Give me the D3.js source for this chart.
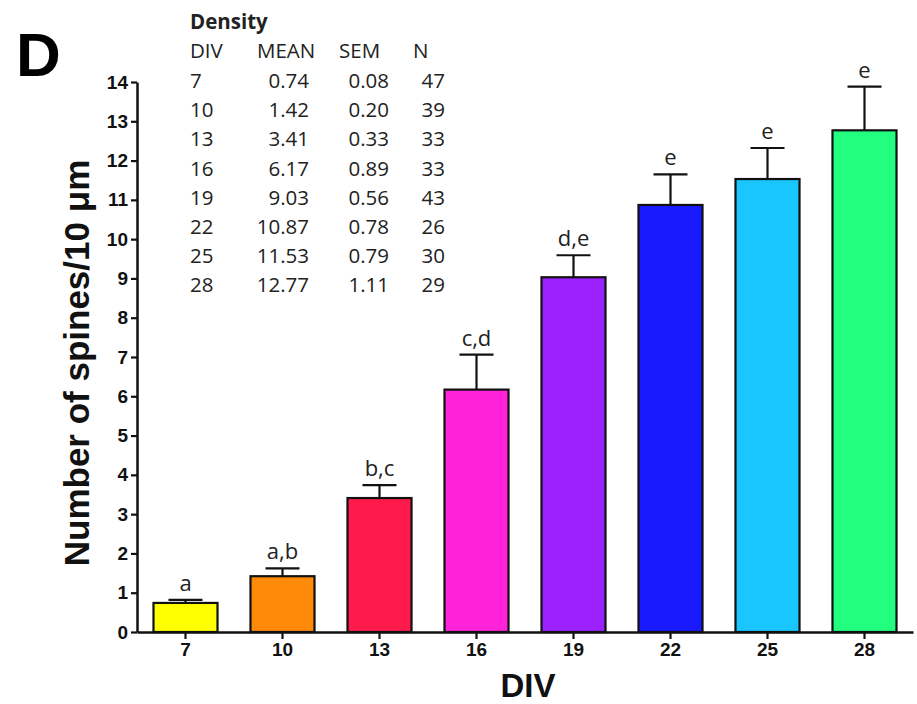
<!DOCTYPE html>
<html>
<head>
<meta charset="utf-8">
<script src="https://cdn.jsdelivr.net/npm/d3@7"></script>
<style>
  body { margin: 0; background: white; }
  svg { display: block; }
</style>
</head>
<body>
<div id="chart"></div>
<script>
const divs = ["7", "10", "13", "16", "19", "22", "25", "28"]
const means = [0.74, 1.42, 3.41, 6.17, 9.03, 10.87, 11.53, 12.77]
const sems = [0.08, 0.20, 0.33, 0.89, 0.56, 0.78, 0.79, 1.11]
const counts = [47, 39, 33, 33, 43, 26, 30, 29]
const letters = ["a", "a,b", "b,c", "c,d", "d,e", "e", "e", "e"]
const colors = ["#ffff00", "#ff8a0a", "#ff1a4c", "#ff22d8", "#9b22ff", "#1a1aff", "#1ac6ff", "#22ff7f"]
const yTicks = d3.range(0, 15)
const tableHeader = ["DIV", "MEAN", "SEM", "N"]

const width = 917, height = 704
const margin = { left: 137, right: 4, top: 82, bottom: 72 }

const svg = d3.select("#chart")
  .append("svg")
  .attr("width", width)
  .attr("height", height)

const x = d3.scaleBand()
  .domain(divs)
  .range([margin.left, width - margin.right])
  .paddingInner(0.34)
  .paddingOuter(0.17)

const y = d3.scaleLinear()
  .domain([0, 14])
  .range([height - margin.bottom, margin.top])

const rows = divs.map((d, i) => ({ div: d, mean: means[i], sem: sems[i], n: counts[i], letter: letters[i], color: colors[i] }))

// bars
svg.append("g")
  .selectAll("rect")
  .data(rows)
  .join("rect")
    .attr("x", d => x(d.div))
    .attr("y", d => y(d.mean))
    .attr("width", x.bandwidth())
    .attr("height", d => y(0) - y(d.mean))
    .attr("fill", d => d.color)
    .attr("stroke", "#111")
    .attr("stroke-width", 2.2)

// error bars (upper only)
const err = svg.append("g")
  .attr("stroke", "#111")
  .attr("stroke-width", 2.2)
  .selectAll("g")
  .data(rows)
  .join("g")
err.append("line")
  .attr("x1", d => x(d.div) + x.bandwidth() / 2)
  .attr("x2", d => x(d.div) + x.bandwidth() / 2)
  .attr("y1", d => y(d.mean))
  .attr("y2", d => y(d.mean + d.sem))
err.append("line")
  .attr("x1", d => x(d.div) + x.bandwidth() / 2 - 17)
  .attr("x2", d => x(d.div) + x.bandwidth() / 2 + 17)
  .attr("y1", d => y(d.mean + d.sem))
  .attr("y2", d => y(d.mean + d.sem))

// significance letters
svg.append("g")
  .selectAll("text")
  .data(rows)
  .join("text")
    .attr("x", d => x(d.div) + x.bandwidth() / 2)
    .attr("y", d => y(d.mean + d.sem) - 9)
    .attr("text-anchor", "middle")
    .attr("font-family", "'Open Sans', sans-serif")
    .attr("font-size", 22)
    .attr("fill", "#222")
    .text(d => d.letter)

// axes
const yAxis = svg.append("g")
  .attr("transform", `translate(${margin.left},0)`)
  .call(d3.axisLeft(y).tickValues(yTicks).tickSize(6).tickPadding(3).tickSizeOuter(0))
yAxis.select(".domain").attr("stroke-width", 2.5).attr("stroke", "#111")
yAxis.selectAll(".tick line").attr("stroke-width", 2.2).attr("stroke", "#111")
yAxis.selectAll(".tick text")
  .attr("font-family", "'Liberation Sans', Arial, sans-serif")
  .attr("font-weight", "bold")
  .attr("font-size", 19)
  .attr("fill", "#111")

const xAxis = svg.append("g")
  .attr("transform", `translate(0,${y(0)})`)
  .call(d3.axisBottom(x).tickSize(7).tickPadding(4).tickSizeOuter(0))
xAxis.select(".domain").attr("stroke-width", 2.5).attr("stroke", "#111")
xAxis.selectAll(".tick line").attr("stroke-width", 2.2).attr("stroke", "#111")
xAxis.selectAll(".tick text")
  .attr("font-family", "'Liberation Sans', Arial, sans-serif")
  .attr("font-weight", "bold")
  .attr("font-size", 19)
  .attr("fill", "#111")

// axis titles
svg.append("text")
  .attr("transform", `translate(89,${(y(0) + y(14)) / 2 + 6}) rotate(-90)`)
  .attr("text-anchor", "middle")
  .attr("font-family", "'Liberation Sans', Arial, sans-serif")
  .attr("font-weight", "bold")
  .attr("font-size", 35)
  .attr("fill", "#111")
  .text("Number of spines/10 μm")

svg.append("text")
  .attr("x", 528)
  .attr("y", 697)
  .attr("text-anchor", "middle")
  .attr("font-family", "'Liberation Sans', Arial, sans-serif")
  .attr("font-weight", "bold")
  .attr("font-size", 33)
  .attr("fill", "#111")
  .text("DIV")

// panel letter
svg.append("text")
  .attr("x", 16)
  .attr("y", 76)
  .attr("font-family", "'Liberation Sans', Arial, sans-serif")
  .attr("font-weight", "bold")
  .attr("font-size", 62)
  .attr("fill", "#000")
  .text("D")

// inset table
const table = svg.append("g")
  .attr("font-family", "'Open Sans', sans-serif")
  .attr("font-size", 20.5)
  .attr("fill", "#222")

table.append("text")
  .attr("x", 190).attr("y", 29)
  .attr("font-weight", "bold")
  .text("Density")

const colX = [190, 257, 339, 413]
table.selectAll("text.hdr")
  .data(tableHeader)
  .join("text")
    .attr("class", "hdr")
    .attr("x", (d, i) => colX[i])
    .attr("y", 58)
    .text(d => d)

const rowY = i => 88 + i * 29.2
const tr = table.selectAll("g.row")
  .data(rows)
  .join("g")
    .attr("class", "row")
    .attr("transform", (d, i) => `translate(0,${rowY(i)})`)
tr.append("text").attr("x", 190).text(d => d.div)
tr.append("text").attr("x", 309).attr("text-anchor", "end").text(d => d.mean.toFixed(2))
tr.append("text").attr("x", 389).attr("text-anchor", "end").text(d => d.sem.toFixed(2))
tr.append("text").attr("x", 445).attr("text-anchor", "end").text(d => d.n)
</script>
</body>
</html>
